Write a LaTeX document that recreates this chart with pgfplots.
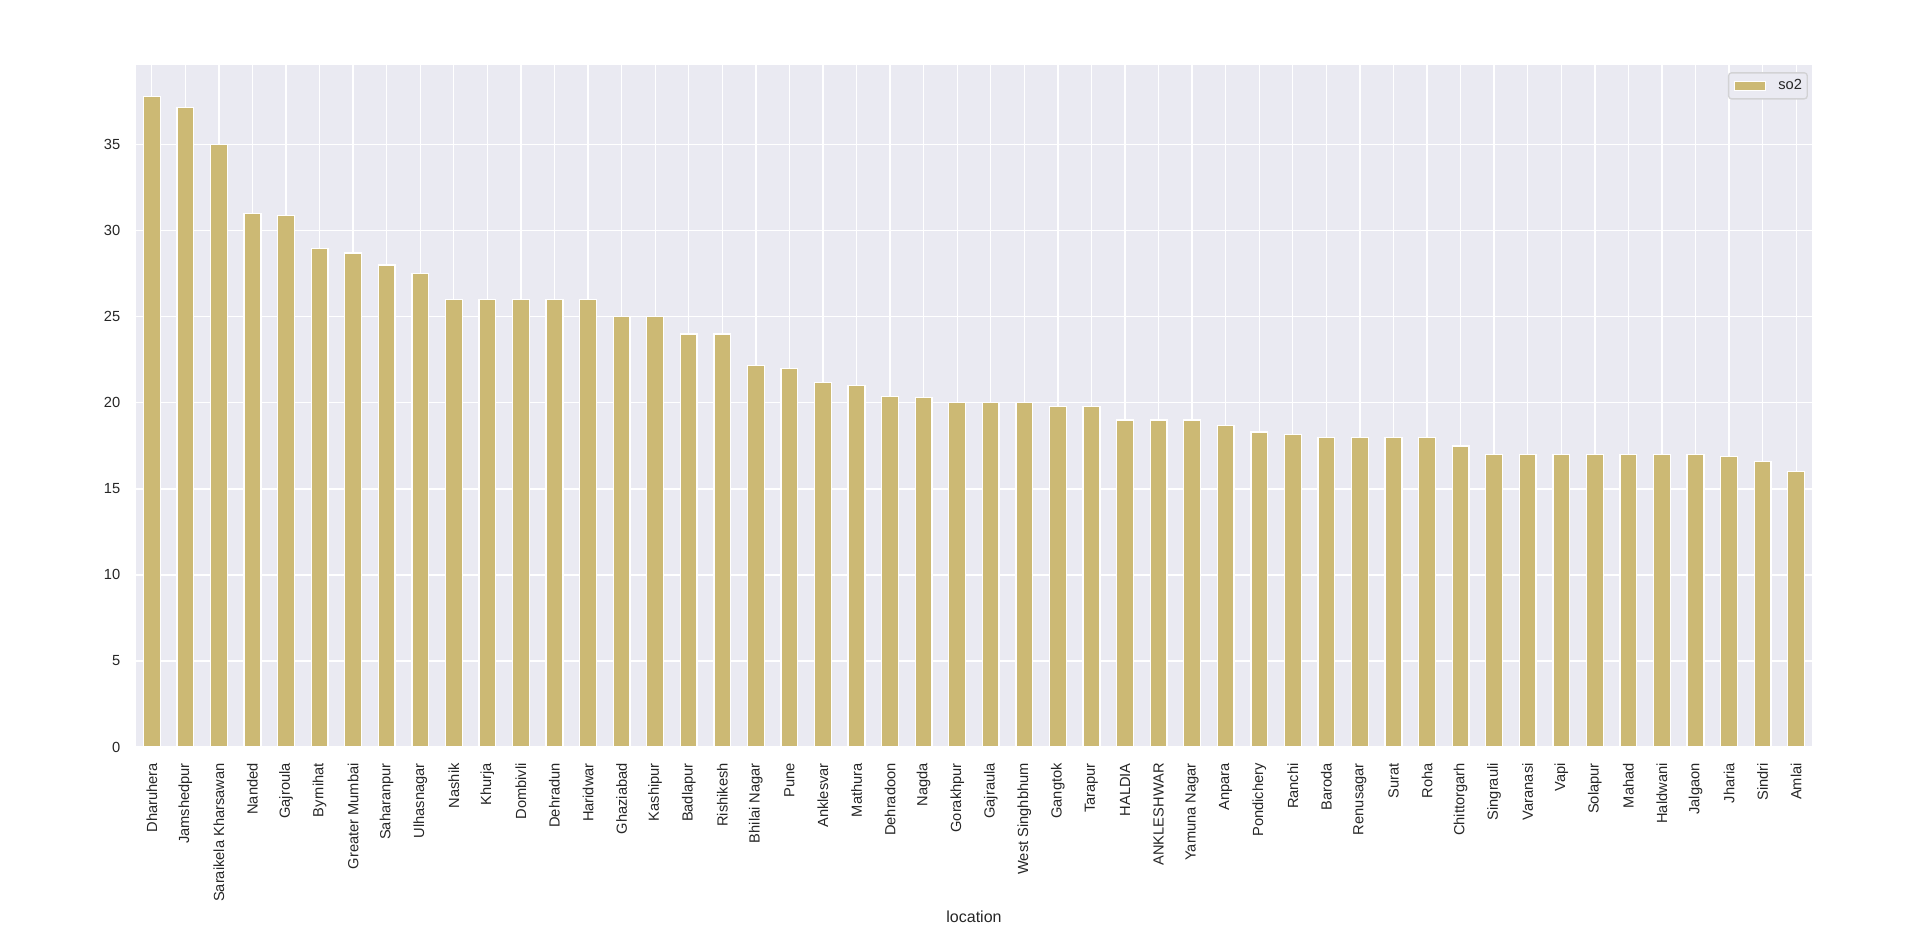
\documentclass[border=0pt]{standalone}
\usepackage{fontspec}
\setmainfont{Liberation Sans}
\usepackage{pgfplots}
\pgfplotsset{compat=1.18}
\definecolor{bg}{HTML}{EAEAF2}
\definecolor{barc}{HTML}{CCB974}
\definecolor{txt}{HTML}{262626}
\definecolor{legedge}{RGB}{210,210,212}
\begin{document}
\begin{tikzpicture}[x=0.75pt,y=0.75pt]
\path[use as bounding box] (0,0) rectangle (1920,927);
\begin{axis}[
  at={(101.25pt,135pt)}, anchor=south west,
  width=1258.5pt, height=512.25pt, scale only axis,
  xmin=-0.5, xmax=49.5, ymin=0, ymax=39.69,
  axis background/.style={fill=bg},
  axis line style={draw=white, line width=1.25pt},
  major tick length=0pt,
  tick style={draw=none},
  xmajorgrids=true, ymajorgrids=true,
  major grid style={draw=white, line width=1pt},
  xtick=data,
  ytick={0,5,10,15,20,25,30,35},
  xticklabels={Dharuhera,Jamshedpur,Saraikela Kharsawan,Nanded,Gajroula,Byrnihat,Greater Mumbai,Saharanpur,Ulhasnagar,Nashik,Khurja,Dombivli,Dehradun,Haridwar,Ghaziabad,Kashipur,Badlapur,Rishikesh,Bhilai Nagar,Pune,Anklesvar,Mathura,Dehradoon,Nagda,Gorakhpur,Gajraula,West Singhbhum,Gangtok,Tarapur,HALDIA,ANKLESHWAR,Yamuna Nagar,Anpara,Pondichery,Ranchi,Baroda,Renusagar,Surat,Roha,Chittorgarh,Singrauli,Varanasi,Vapi,Solapur,Mahad,Haldwani,Jalgaon,Jharia,Sindri,Amlai},
  xticklabel style={rotate=90, anchor=east, inner xsep=12pt, inner ysep=0pt, font=\fontsize{11}{13}\selectfont, text=txt},
  yticklabel style={anchor=east, inner xsep=10.9pt, inner ysep=0pt, font=\fontsize{11}{13}\selectfont, text=txt},
  /pgf/number format/assume math mode=true,
  xlabel={location},
  xlabel style={at={(axis description cs:0.5,0)}, anchor=base, yshift=-132pt, font=\fontsize{12}{14}\selectfont, text=txt},
  legend style={at={(0.997,0.988)}, anchor=north east, fill=bg, draw=legedge, line width=1pt, rounded corners=2.2pt, font=\fontsize{11}{13}\selectfont, text=txt, inner xsep=4pt, inner ysep=4.6pt, nodes={inner sep=0pt, text height=8pt, text depth=2.3pt}, /tikz/every odd column/.style={column sep=9.75pt}},
  legend image code/.code={\draw[sharp corners, fill=barc, draw=white, line width=0.5pt] (0pt,-3.6pt) rectangle (23pt,3.6pt);},
]
\addplot[ybar, bar width=0.5, fill=barc, draw=white, line width=1pt] coordinates {
(0,37.8) (1,37.15) (2,35.0) (3,31.0) (4,30.9) (5,28.95) (6,28.7) (7,28.0) (8,27.5) (9,26.0)
(10,26.0) (11,26.0) (12,26.0) (13,26.0) (14,25.0) (15,25.0) (16,24.0) (17,24.0) (18,22.15) (19,22.0)
(20,21.2) (21,21.0) (22,20.35) (23,20.3) (24,20.0) (25,20.0) (26,20.0) (27,19.8) (28,19.8) (29,19.0)
(30,19.0) (31,19.0) (32,18.7) (33,18.3) (34,18.15) (35,18.0) (36,18.0) (37,18.0) (38,18.0) (39,17.5)
(40,17.0) (41,17.0) (42,17.0) (43,17.0) (44,17.0) (45,17.0) (46,17.0) (47,16.9) (48,16.6) (49,16.0)
};
\addlegendentry{so2}
\end{axis}
\end{tikzpicture}
\end{document}
